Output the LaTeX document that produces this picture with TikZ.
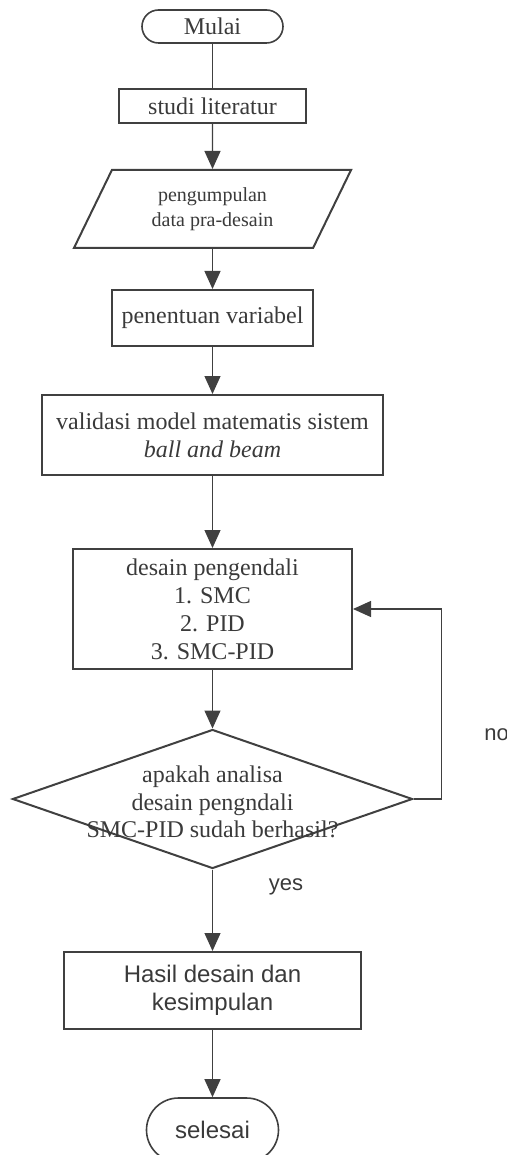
\documentclass[tikz,border=0pt]{standalone}
\usepackage{fontspec}
\setmainfont{Liberation Serif}
\newfontfamily\arialfont{Liberation Sans}
\usetikzlibrary{shapes.geometric, arrows.meta}
\definecolor{garis}{HTML}{404040}
\definecolor{teks}{HTML}{3A3A3A}
\tikzstyle{startstop} = [rectangle, rounded corners=8.25pt, minimum width=70.5pt, minimum height=16.5pt, inner sep=0pt, text centered, draw=garis, line width=0.8pt, text=teks, font=\fontsize{12}{14}\selectfont]
\tikzstyle{io} = [trapezium, trapezium left angle=62, trapezium right angle=118, trapezium stretches=true, minimum width=139pt, minimum height=39pt, inner sep=0pt, align=center, draw=garis, line width=1pt, text=teks, font=\fontsize{10}{12.5}\selectfont]
\tikzstyle{process} = [rectangle, inner sep=0pt, align=center, draw=garis, line width=1pt, text=teks, font=\fontsize{12}{14}\selectfont]
\tikzstyle{decision} = [diamond, minimum width=200pt, minimum height=69.5pt, inner sep=0pt, draw=garis, line width=1pt]
\tikzstyle{isi} = [inner sep=0pt, align=center, text=teks, font=\fontsize{12}{13.75}\selectfont]
\tikzstyle{lbl} = [inner sep=0pt, text=teks, font={\arialfont\fontsize{11}{13}\selectfont}]
\tikzstyle{arrow} = [draw=garis, line width=0.65pt, -{Triangle[length=9pt, width=8pt]}]
\tikzstyle{line} = [draw=garis, line width=0.65pt]

\begin{document}
\begin{tikzpicture}[node distance = 50pt]
      \useasboundingbox (-106.25pt,13.25pt) rectangle (147.25pt,-564.25pt);
      \node (mulai) [startstop] {Mulai};
      \node (studi) [process, below of=mulai, yshift=10.25pt, minimum width=93.5pt, minimum height=17pt] {studi literatur};
      \node (data) [io, below of=studi, yshift=-1.5pt] {pengumpulan\\data pra-desain};
      \node (variabel) [process, below of=data, yshift=-4.5pt, minimum width=100.5pt, minimum height=28pt] {penentuan variabel};
      \node (validasi) [process, below of=variabel, yshift=-8.5pt, minimum width=170.5pt, minimum height=40pt] {validasi model matematis sistem\\\textit{ball and beam}};
      \node (desain) [process, below of=validasi, yshift=-37pt, minimum width=139.5pt, minimum height=60pt] {desain pengendali\\1. SMC\\2. PID\\3. SMC-PID};
      \node (cek) [decision, below of=desain, yshift=-45pt] {};
      \node (cektxt) [isi, yshift=-1.5pt] at (cek.center) {apakah analisa\\desain pengndali\\SMC-PID sudah berhasil?};
      \node (hasil) [process, below of=cek, yshift=-45.75pt, minimum width=148.5pt, minimum height=38.5pt, font={\arialfont\fontsize{12}{14}\selectfont}] {Hasil desain dan\\kesimpulan};
      \node (selesai) [startstop, below of=hasil, yshift=-19.75pt, minimum width=66pt, minimum height=32pt, rounded corners=16pt, font={\arialfont\fontsize{12}{14}\selectfont}] {selesai};
      \node (yes) [lbl, below of=cek, yshift=6pt, xshift=36.75pt] {yes};
      \node (no) [lbl, right of=cek, xshift=92pt, yshift=32pt] {no};
      \draw [line] (mulai) -- (studi);
      \draw [arrow] (studi) -- (data);
      \draw [arrow] (data) -- (variabel);
      \draw [arrow] (variabel) -- (validasi);
      \draw [arrow] (validasi) -- (desain);
      \draw [arrow] (desain) -- (cek);
      \draw [arrow] (cek) -- (hasil);
      \draw [arrow] (hasil) -- (selesai);
      \draw [arrow, line width=0.55pt] (cek.east) -- ++(14pt,0) |- (desain.east);
    \end{tikzpicture}
\end{document}
